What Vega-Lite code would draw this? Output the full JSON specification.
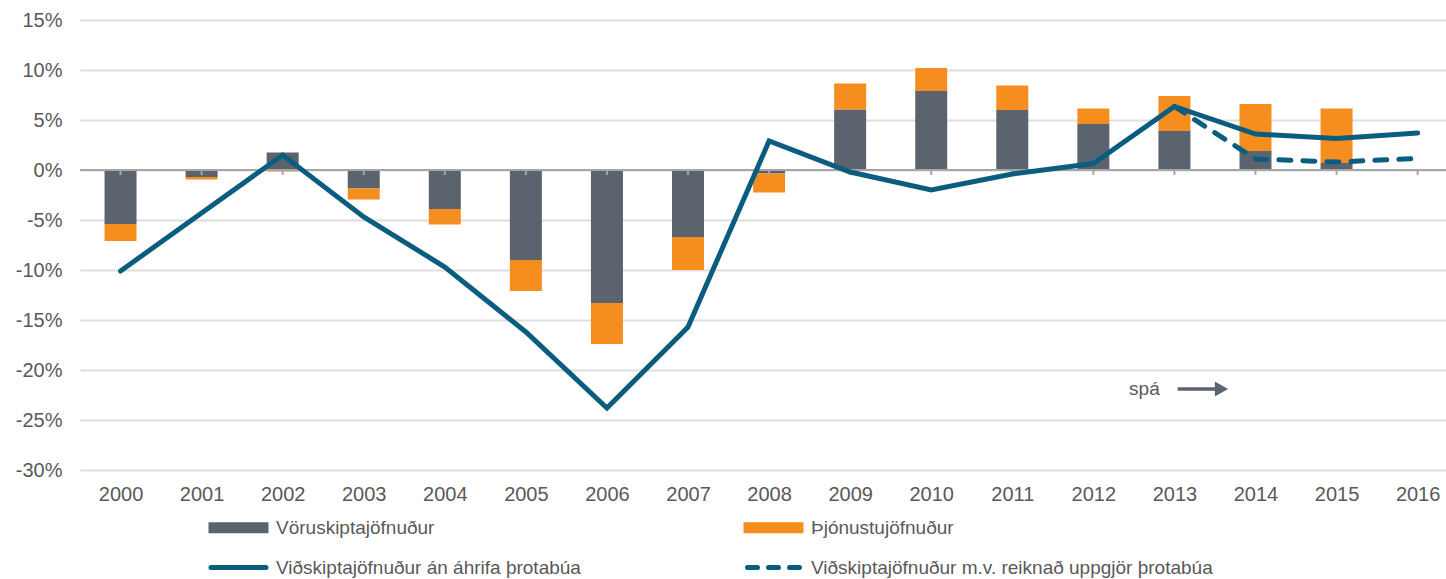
{
  "$schema": "https://vega.github.io/schema/vega-lite/v6.json",
  "width": 1366,
  "height": 450,
  "autosize": {"type": "none"},
  "padding": {"left": 80, "top": 20, "right": 0, "bottom": 109},
  "background": "#ffffff",
  "config": {
    "font": "Liberation Sans",
    "view": {"stroke": null},
    "axis": {"labelColor": "#595959", "labelFont": "Liberation Sans"},
    "legend": {"labelColor": "#595959", "labelFont": "Liberation Sans"}
  },
  "datasets": {
    "bars": [
      {"year": 2000, "series": "Vöruskiptajöfnuður", "value": -5.4},
      {"year": 2000, "series": "Þjónustujöfnuður", "value": -1.7},
      {"year": 2001, "series": "Vöruskiptajöfnuður", "value": -0.7},
      {"year": 2001, "series": "Þjónustujöfnuður", "value": -0.25},
      {"year": 2002, "series": "Vöruskiptajöfnuður", "value": 1.75},
      {"year": 2002, "series": "Þjónustujöfnuður", "value": -0.15},
      {"year": 2003, "series": "Vöruskiptajöfnuður", "value": -1.85},
      {"year": 2003, "series": "Þjónustujöfnuður", "value": -1.1},
      {"year": 2004, "series": "Vöruskiptajöfnuður", "value": -3.9},
      {"year": 2004, "series": "Þjónustujöfnuður", "value": -1.55},
      {"year": 2005, "series": "Vöruskiptajöfnuður", "value": -9.0},
      {"year": 2005, "series": "Þjónustujöfnuður", "value": -3.1},
      {"year": 2006, "series": "Vöruskiptajöfnuður", "value": -13.3},
      {"year": 2006, "series": "Þjónustujöfnuður", "value": -4.1},
      {"year": 2007, "series": "Vöruskiptajöfnuður", "value": -6.7},
      {"year": 2007, "series": "Þjónustujöfnuður", "value": -3.3},
      {"year": 2008, "series": "Vöruskiptajöfnuður", "value": -0.35},
      {"year": 2008, "series": "Þjónustujöfnuður", "value": -1.9},
      {"year": 2009, "series": "Vöruskiptajöfnuður", "value": 6.05},
      {"year": 2009, "series": "Þjónustujöfnuður", "value": 2.6},
      {"year": 2010, "series": "Vöruskiptajöfnuður", "value": 7.9},
      {"year": 2010, "series": "Þjónustujöfnuður", "value": 2.3},
      {"year": 2011, "series": "Vöruskiptajöfnuður", "value": 6.0},
      {"year": 2011, "series": "Þjónustujöfnuður", "value": 2.45},
      {"year": 2012, "series": "Vöruskiptajöfnuður", "value": 4.6},
      {"year": 2012, "series": "Þjónustujöfnuður", "value": 1.55},
      {"year": 2013, "series": "Vöruskiptajöfnuður", "value": 3.9},
      {"year": 2013, "series": "Þjónustujöfnuður", "value": 3.5},
      {"year": 2014, "series": "Vöruskiptajöfnuður", "value": 1.9},
      {"year": 2014, "series": "Þjónustujöfnuður", "value": 4.7},
      {"year": 2015, "series": "Vöruskiptajöfnuður", "value": 0.7},
      {"year": 2015, "series": "Þjónustujöfnuður", "value": 5.45}
    ],
    "lines": [
      {"year": 2000, "series": "Viðskiptajöfnuður án áhrifa þrotabúa", "value": -10.1},
      {"year": 2001, "series": "Viðskiptajöfnuður án áhrifa þrotabúa", "value": -4.3},
      {"year": 2002, "series": "Viðskiptajöfnuður án áhrifa þrotabúa", "value": 1.5},
      {"year": 2003, "series": "Viðskiptajöfnuður án áhrifa þrotabúa", "value": -4.7},
      {"year": 2004, "series": "Viðskiptajöfnuður án áhrifa þrotabúa", "value": -9.7},
      {"year": 2005, "series": "Viðskiptajöfnuður án áhrifa þrotabúa", "value": -16.2},
      {"year": 2006, "series": "Viðskiptajöfnuður án áhrifa þrotabúa", "value": -23.8},
      {"year": 2007, "series": "Viðskiptajöfnuður án áhrifa þrotabúa", "value": -15.7},
      {"year": 2008, "series": "Viðskiptajöfnuður án áhrifa þrotabúa", "value": 2.9},
      {"year": 2009, "series": "Viðskiptajöfnuður án áhrifa þrotabúa", "value": -0.2},
      {"year": 2010, "series": "Viðskiptajöfnuður án áhrifa þrotabúa", "value": -2.0},
      {"year": 2011, "series": "Viðskiptajöfnuður án áhrifa þrotabúa", "value": -0.4},
      {"year": 2012, "series": "Viðskiptajöfnuður án áhrifa þrotabúa", "value": 0.65},
      {"year": 2013, "series": "Viðskiptajöfnuður án áhrifa þrotabúa", "value": 6.35},
      {"year": 2014, "series": "Viðskiptajöfnuður án áhrifa þrotabúa", "value": 3.6},
      {"year": 2015, "series": "Viðskiptajöfnuður án áhrifa þrotabúa", "value": 3.15},
      {"year": 2016, "series": "Viðskiptajöfnuður án áhrifa þrotabúa", "value": 3.7},
      {"year": 2013, "series": "Viðskiptajöfnuður m.v. reiknað uppgjör þrotabúa", "value": 6.35},
      {"year": 2014, "series": "Viðskiptajöfnuður m.v. reiknað uppgjör þrotabúa", "value": 1.1},
      {"year": 2015, "series": "Viðskiptajöfnuður m.v. reiknað uppgjör þrotabúa", "value": 0.8},
      {"year": 2016, "series": "Viðskiptajöfnuður m.v. reiknað uppgjör þrotabúa", "value": 1.15}
    ]
  },
  "encoding": {
    "x": {
      "field": "year",
      "type": "quantitative",
      "scale": {"domain": [1999.5, 2016.35], "nice": false, "zero": false, "padding": 0},
      "axis": {
        "values": [2000, 2001, 2002, 2003, 2004, 2005, 2006, 2007, 2008, 2009, 2010, 2011, 2012, 2013, 2014, 2015, 2016],
        "format": "d",
        "title": null,
        "grid": false,
        "domain": false,
        "ticks": false,
        "labelFlush": false,
        "labelFontSize": 20,
        "labelPadding": 14
      }
    },
    "y": {
      "field": "value",
      "type": "quantitative",
      "scale": {"domain": [-30, 15], "nice": false, "zero": false},
      "axis": {
        "values": [-30, -25, -20, -15, -10, -5, 0, 5, 10, 15],
        "labelExpr": "datum.value + '%'",
        "title": null,
        "grid": true,
        "gridColor": "#dedede",
        "gridWidth": 2,
        "domain": false,
        "ticks": false,
        "labelFontSize": 20,
        "labelPadding": 18
      }
    }
  },
  "layer": [
    {
      "data": {"name": "bars"},
      "mark": {"type": "bar", "size": 32},
      "encoding": {
        "y": {"field": "value", "type": "quantitative", "stack": "zero"},
        "order": {"field": "series", "sort": "ascending"},
        "color": {
          "field": "series",
          "type": "nominal",
          "scale": {
            "domain": ["Vöruskiptajöfnuður", "Þjónustujöfnuður", "Viðskiptajöfnuður án áhrifa þrotabúa", "Viðskiptajöfnuður m.v. reiknað uppgjör þrotabúa"],
            "range": ["#5b646e", "#f68e1f", "#0b5d80", "#0b5d80"]
          },
          "legend": {
            "title": null,
            "orient": "none",
            "legendX": 128,
            "legendY": 498,
            "direction": "horizontal",
            "columns": 2,
            "columnPadding": 156,
            "rowPadding": 19,
            "labelFontSize": 19,
            "labelLimit": 0,
            "symbolSize": 100,
            "symbolOffset": 21,
            "labelOffset": 28,
            "encode": {
              "symbols": {
                "update": {
                  "shape": {"signal": "(datum.value === 'Vöruskiptajöfnuður' || datum.value === 'Þjónustujöfnuður') ? 'M-6,-1.1H6V1.1H-6Z' : (datum.value === 'Viðskiptajöfnuður án áhrifa þrotabúa' ? 'M-5.5,0H5.5' : 'M-5.2,0H-3.2M-1,0H1M3.2,0H5.2')"},
                  "size": {"value": 100},
                  "fill": [
                    {"test": "datum.value === 'Vöruskiptajöfnuður' || datum.value === 'Þjónustujöfnuður'", "scale": "color", "field": "value"},
                    {"value": "transparent"}
                  ],
                  "stroke": {"scale": "color", "field": "value"},
                  "strokeWidth": {"signal": "(datum.value === 'Vöruskiptajöfnuður' || datum.value === 'Þjónustujöfnuður') ? 0 : 5"},
                  "strokeCap": {"value": "round"},
                  "strokeDash": {"value": []},
                  "opacity": {"value": 1}
                }
              }
            }
          }
        }
      }
    },
    {
      "data": {"name": "lines"},
      "transform": [{"filter": "datum.series === 'Viðskiptajöfnuður án áhrifa þrotabúa'"}],
      "mark": {"type": "rule", "color": "#a6a6a6", "strokeWidth": 2},
      "encoding": {
        "y": {"datum": 0},
        "y2": {"datum": -0.5}
      }
    },
    {
      "data": {"name": "lines"},
      "mark": {"type": "rule", "color": "#a6a6a6", "strokeWidth": 2},
      "encoding": {
        "x": {"datum": 1999.5},
        "x2": {"datum": 2016.35},
        "y": {"datum": 0}
      }
    },
    {
      "data": {"name": "lines"},
      "transform": [{"filter": "datum.series === 'Viðskiptajöfnuður án áhrifa þrotabúa'"}],
      "mark": {"type": "line", "strokeWidth": 5, "strokeCap": "round", "strokeJoin": "miter"},
      "encoding": {
        "color": {"field": "series", "type": "nominal"}
      }
    },
    {
      "data": {"name": "lines"},
      "transform": [{"filter": "datum.series === 'Viðskiptajöfnuður m.v. reiknað uppgjör þrotabúa'"}],
      "mark": {"type": "line", "strokeWidth": 5, "strokeCap": "round", "strokeDash": [12, 12]},
      "encoding": {
        "color": {"field": "series", "type": "nominal"}
      }
    },
    {
      "data": {"name": "lines"},
      "transform": [{"filter": "datum.year === 2016 && datum.series === 'Viðskiptajöfnuður án áhrifa þrotabúa'"}],
      "mark": {"type": "text", "text": "spá", "fontSize": 19, "color": "#595959", "align": "center", "baseline": "middle", "font": "Liberation Sans"},
      "encoding": {
        "x": {"datum": 2012.63},
        "y": {"datum": -21.9}
      }
    },
    {
      "data": {"name": "lines"},
      "transform": [{"filter": "datum.year === 2016 && datum.series === 'Viðskiptajöfnuður án áhrifa þrotabúa'"}],
      "mark": {"type": "rule", "color": "#5b646e", "strokeWidth": 3.5},
      "encoding": {
        "x": {"datum": 2013.04},
        "x2": {"datum": 2013.5},
        "y": {"datum": -21.9}
      }
    },
    {
      "data": {"name": "lines"},
      "transform": [{"filter": "datum.year === 2016 && datum.series === 'Viðskiptajöfnuður án áhrifa þrotabúa'"}],
      "mark": {"type": "point", "shape": "triangle-right", "filled": true, "color": "#5b646e", "size": 230, "opacity": 1},
      "encoding": {
        "x": {"datum": 2013.58},
        "y": {"datum": -21.9}
      }
    }
  ]
}
